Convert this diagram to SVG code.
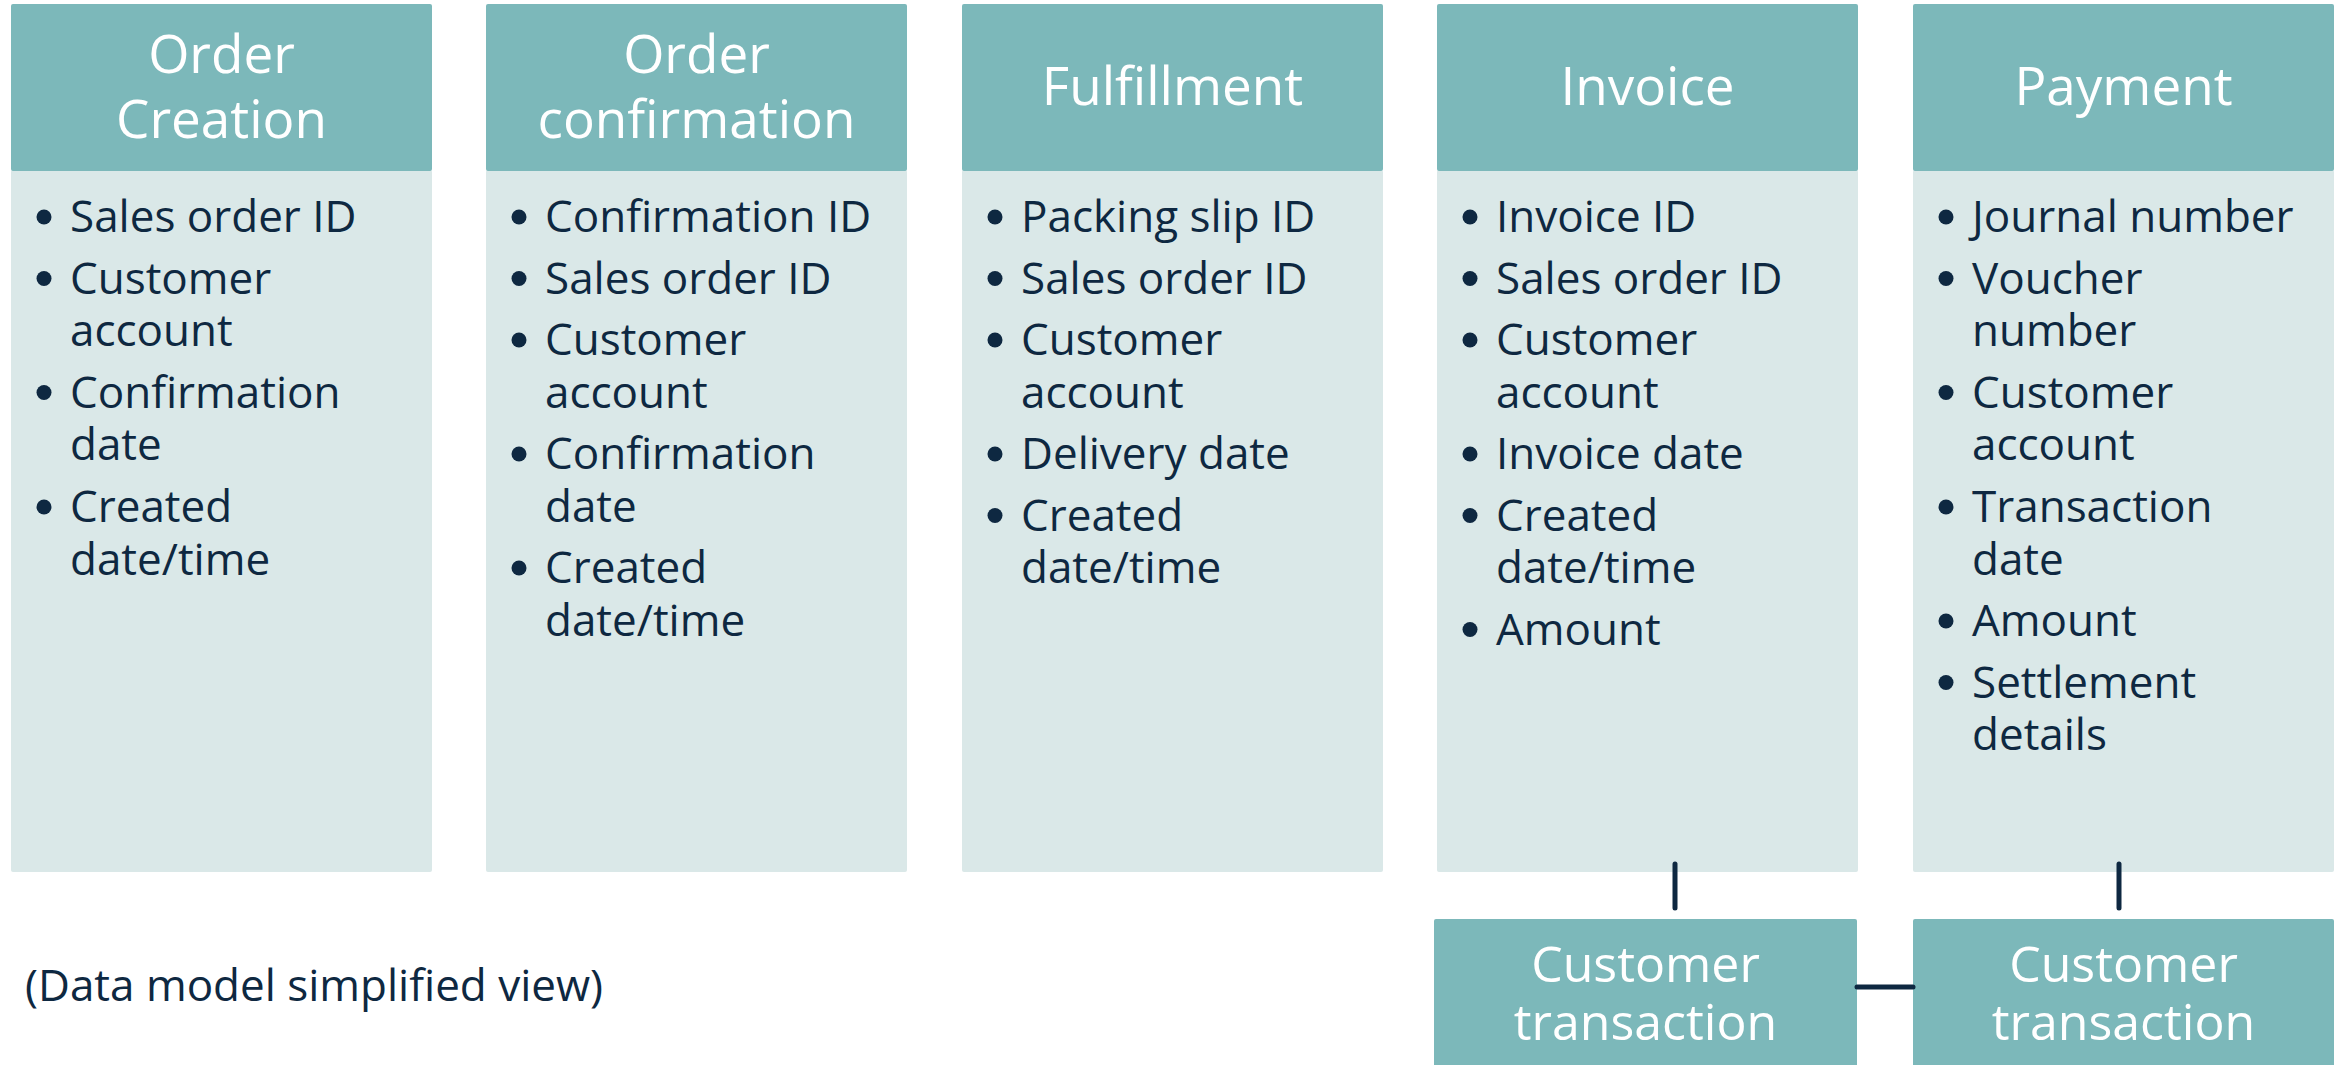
<svg xmlns="http://www.w3.org/2000/svg" width="2343" height="1065" viewBox="0 0 2343 1065">
<style>
.hd{fill:#7CB8BA}
.bd{fill:#DAE8E8}
.ht{font-family:"Open Sans","Liberation Sans",Arial,sans-serif;font-size:53px;fill:#FFFFFF;text-anchor:middle}
.ct{font-family:"Open Sans","Liberation Sans",Arial,sans-serif;font-size:50px;fill:#FFFFFF;text-anchor:middle}
.it{font-family:"Open Sans","Liberation Sans",Arial,sans-serif;font-size:44px;fill:#0E2841}
.bl{fill:#0E2841}
.cn{stroke:#0E2841;stroke-width:5;stroke-linecap:round;fill:none}
</style>
<rect width="2343" height="1065" fill="#FFFFFF"/>
<g id="order-creation">
<rect class="bd" x="11" y="170" width="421" height="702" rx="2"/>
<rect class="hd" x="11" y="4" width="421" height="167" rx="2"/>
<text class="ht" x="221.5" y="73">Order</text>
<text class="ht" x="221.5" y="138">Creation</text>
<circle class="bl" cx="44" cy="217" r="7.5"/><text class="it" x="70" y="232">Sales order ID</text>
<circle class="bl" cx="44" cy="278.5" r="7.5"/><text class="it" x="70" y="293.5">Customer</text>
<text class="it" x="70" y="346">account</text>
<circle class="bl" cx="44" cy="392.5" r="7.5"/><text class="it" x="70" y="407.5">Confirmation</text>
<text class="it" x="70" y="460">date</text>
<circle class="bl" cx="44" cy="507" r="7.5"/><text class="it" x="70" y="522">Created</text>
<text class="it" x="70" y="574.5">date/time</text>
</g>
<g id="order-confirmation">
<rect class="bd" x="486" y="170" width="421" height="702" rx="2"/>
<rect class="hd" x="486" y="4" width="421" height="167" rx="2"/>
<text class="ht" x="696.5" y="73">Order</text>
<text class="ht" x="696.5" y="138">confirmation</text>
<circle class="bl" cx="519" cy="217" r="7.5"/><text class="it" x="545" y="232">Confirmation ID</text>
<circle class="bl" cx="519" cy="278.5" r="7.5"/><text class="it" x="545" y="293.5">Sales order ID</text>
<circle class="bl" cx="519" cy="340" r="7.5"/><text class="it" x="545" y="355">Customer</text>
<text class="it" x="545" y="407.5">account</text>
<circle class="bl" cx="519" cy="454" r="7.5"/><text class="it" x="545" y="469">Confirmation</text>
<text class="it" x="545" y="521.5">date</text>
<circle class="bl" cx="519" cy="568" r="7.5"/><text class="it" x="545" y="583">Created</text>
<text class="it" x="545" y="635.5">date/time</text>
</g>
<g id="fulfillment">
<rect class="bd" x="962" y="170" width="421" height="702" rx="2"/>
<rect class="hd" x="962" y="4" width="421" height="167" rx="2"/>
<text class="ht" x="1172.5" y="105">Fulfillment</text>
<circle class="bl" cx="995" cy="217" r="7.5"/><text class="it" x="1021" y="232">Packing slip ID</text>
<circle class="bl" cx="995" cy="278.5" r="7.5"/><text class="it" x="1021" y="293.5">Sales order ID</text>
<circle class="bl" cx="995" cy="340" r="7.5"/><text class="it" x="1021" y="355">Customer</text>
<text class="it" x="1021" y="407.5">account</text>
<circle class="bl" cx="995" cy="454" r="7.5"/><text class="it" x="1021" y="469">Delivery date</text>
<circle class="bl" cx="995" cy="515.5" r="7.5"/><text class="it" x="1021" y="530.5">Created</text>
<text class="it" x="1021" y="583">date/time</text>
</g>
<g id="invoice">
<rect class="bd" x="1437" y="170" width="421" height="702" rx="2"/>
<rect class="hd" x="1437" y="4" width="421" height="167" rx="2"/>
<text class="ht" x="1647.5" y="105">Invoice</text>
<circle class="bl" cx="1470" cy="217" r="7.5"/><text class="it" x="1496" y="232">Invoice ID</text>
<circle class="bl" cx="1470" cy="278.5" r="7.5"/><text class="it" x="1496" y="293.5">Sales order ID</text>
<circle class="bl" cx="1470" cy="340" r="7.5"/><text class="it" x="1496" y="355">Customer</text>
<text class="it" x="1496" y="407.5">account</text>
<circle class="bl" cx="1470" cy="454" r="7.5"/><text class="it" x="1496" y="469">Invoice date</text>
<circle class="bl" cx="1470" cy="515.5" r="7.5"/><text class="it" x="1496" y="530.5">Created</text>
<text class="it" x="1496" y="583">date/time</text>
<circle class="bl" cx="1470" cy="629.5" r="7.5"/><text class="it" x="1496" y="644.5">Amount</text>
</g>
<g id="payment">
<rect class="bd" x="1913" y="170" width="421" height="702" rx="2"/>
<rect class="hd" x="1913" y="4" width="421" height="167" rx="2"/>
<text class="ht" x="2123.5" y="105">Payment</text>
<circle class="bl" cx="1946" cy="217" r="7.5"/><text class="it" x="1972" y="232">Journal number</text>
<circle class="bl" cx="1946" cy="278.5" r="7.5"/><text class="it" x="1972" y="293.5">Voucher</text>
<text class="it" x="1972" y="346">number</text>
<circle class="bl" cx="1946" cy="392.5" r="7.5"/><text class="it" x="1972" y="407.5">Customer</text>
<text class="it" x="1972" y="460">account</text>
<circle class="bl" cx="1946" cy="507" r="7.5"/><text class="it" x="1972" y="522">Transaction</text>
<text class="it" x="1972" y="574.5">date</text>
<circle class="bl" cx="1946" cy="621" r="7.5"/><text class="it" x="1972" y="636">Amount</text>
<circle class="bl" cx="1946" cy="682.5" r="7.5"/><text class="it" x="1972" y="697.5">Settlement</text>
<text class="it" x="1972" y="750">details</text>
</g>
<g id="customer-transaction-1">
<rect class="hd" x="1434" y="919" width="423" height="150" rx="2"/>
<text class="ct" x="1645.5" y="982">Customer</text>
<text class="ct" x="1645.5" y="1040">transaction</text>
</g>
<g id="customer-transaction-2">
<rect class="hd" x="1913" y="919" width="421" height="150" rx="2"/>
<text class="ct" x="2123.5" y="982">Customer</text>
<text class="ct" x="2123.5" y="1040">transaction</text>
</g>
<g id="note">
<text x="25" y="1001" style="font-family:'Open Sans','Liberation Sans',Arial,sans-serif;font-size:44px;fill:#0E2841">(Data model simplified view)</text>
</g>
<g id="connectors">
<line class="cn" x1="1675" y1="864" x2="1675" y2="908"/>
<line class="cn" x1="2119" y1="864" x2="2119" y2="908"/>
<line class="cn" x1="1857" y1="987" x2="1913" y2="987"/>
</g>
</svg>
